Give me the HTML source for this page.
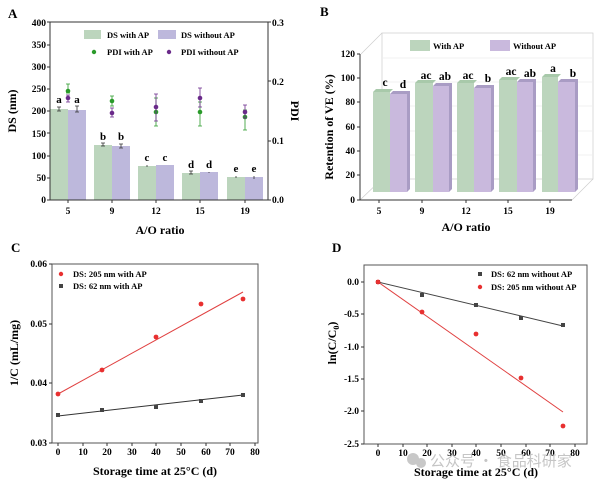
<!DOCTYPE html><html><head><style>body{margin:0;background:#fff}svg{display:block}text{font-family:"Liberation Serif",serif;font-weight:bold}</style></head><body>
<svg width="600" height="483" viewBox="0 0 600 483" xmlns="http://www.w3.org/2000/svg">
<!-- Panel A -->
<text x="8" y="18" font-size="13">A</text>
<g font-size="9.5" text-anchor="end">
<text x="46" y="203">0</text><text x="46" y="181">50</text><text x="46" y="159">100</text><text x="46" y="137">150</text><text x="46" y="114">200</text><text x="46" y="92">250</text><text x="46" y="70">300</text><text x="46" y="48">350</text><text x="46" y="26">400</text>
</g>
<g font-size="9.5" text-anchor="start"><text x="272" y="203">0.0</text><text x="272" y="144">0.1</text><text x="272" y="85">0.2</text><text x="272" y="26">0.3</text></g>
<g fill="#bcd5bd"><rect x="50" y="109" width="18" height="91"/><rect x="94" y="145" width="18" height="55"/><rect x="138" y="166" width="18" height="34"/><rect x="182" y="173" width="18" height="27"/><rect x="227" y="177" width="18" height="23"/></g>
<g fill="#bdb8dc"><rect x="68" y="110" width="18" height="90"/><rect x="112" y="146" width="18" height="54"/><rect x="156" y="165" width="18" height="35"/><rect x="200" y="172" width="18" height="28"/><rect x="245" y="177" width="18" height="23"/></g>
<g stroke="#333" stroke-width="0.8"><path d="M59 107v4M57 107h4M57 111h4M77 106v6M75 106h4M75 112h4M103 143v3M101 143h4M101 146h4M121 144v4M119 144h4M119 148h4M147 165v2M191 171v3M189 171h4M189 174h4M209 172v1M236 176v2M254 176v3"/></g>
<rect x="50" y="22" width="218" height="178" fill="none" stroke="#333" stroke-width="1"/>
<g stroke="#333" stroke-width="1"><path d="M68 200v3M112 200v3M156 200v3M200 200v3M245 200v3M50 200h-3M50 178h-3M50 156h-3M50 133h-3M50 111h-3M50 89h-3M50 67h-3M50 45h-3M50 22h-3M268 200h3M268 141h3M268 81h3M268 22h3"/></g>
<g font-size="11" text-anchor="middle"><text x="59" y="103">a</text><text x="77" y="103">a</text><text x="103" y="140">b</text><text x="121" y="140">b</text><text x="147" y="161">c</text><text x="165" y="161">c</text><text x="191" y="168">d</text><text x="209" y="168">d</text><text x="236" y="172">e</text><text x="254" y="172">e</text></g>
<!-- PDI -->
<g stroke="#2a9a2a" stroke-width="0.8" fill="none"><path d="M68 84v9M66 84h4M66 93h4M112 96v10M110 96h4M110 106h4M156 98v28M154 98h4M154 126h4M200 102v24M198 102h4M198 126h4M245 110v20M243 110h4M243 130h4"/></g>
<g fill="#2a9a2a"><circle cx="68" cy="91" r="2.3"/><circle cx="112" cy="101" r="2.3"/><circle cx="156" cy="112" r="2.3"/><circle cx="200" cy="112" r="2.3"/><circle cx="245" cy="117" r="2.3"/></g>
<g stroke="#6a2a8a" stroke-width="0.8" fill="none"><path d="M68 95v7M66 95h4M66 102h4M112 108v9M110 108h4M110 117h4M156 94v27M154 94h4M154 121h4M200 88v19M198 88h4M198 107h4M245 105v13M243 105h4M243 118h4"/></g>
<g fill="#6a2a8a"><circle cx="68" cy="98" r="2.3"/><circle cx="112" cy="113" r="2.3"/><circle cx="156" cy="107" r="2.3"/><circle cx="200" cy="98" r="2.3"/><circle cx="245" cy="112" r="2.3"/></g>
<g font-size="8.5"><rect x="84" y="30" width="17" height="9" fill="#bcd5bd"/><text x="107" y="38">DS with AP</text><rect x="158" y="30" width="18" height="9" fill="#bdb8dc"/><text x="181" y="38">DS without AP</text>
<circle cx="94" cy="52" r="2.2" fill="#2a9a2a"/><text x="107" y="55">PDI with AP</text><circle cx="169" cy="52" r="2.2" fill="#6a2a8a"/><text x="181" y="55">PDI without AP</text></g>
<g font-size="9.5" text-anchor="middle"><text x="68" y="214">5</text><text x="112" y="214">9</text><text x="156" y="214">12</text><text x="200" y="214">15</text><text x="245" y="214">19</text></g>
<text x="160" y="234" font-size="12" text-anchor="middle">A/O ratio</text>
<text transform="translate(16,111) rotate(-90)" font-size="12" text-anchor="middle">DS (nm)</text>
<text transform="translate(291,111) rotate(90)" font-size="12" text-anchor="middle">PDI</text>

<!-- Panel B -->
<text x="320" y="16" font-size="13">B</text>
<g stroke="#ccc" stroke-width="0.7" fill="none"><rect x="382" y="33" width="211" height="146"/><path d="M360 200L382 179M572 200L593 179M361 54L382 33"/>
<path d="M382 155h211M382 131h211M382 106h211M382 82h211M382 58h211" stroke="#eee"/></g>
<path d="M360 54V200H572" stroke="#333" fill="none"/>
<g stroke="#333"><path d="M360 54h-3M360 78h-3M360 102h-3M360 127h-3M360 151h-3M360 175h-3M360 200h-3M379 200v3M422 200v3M466 200v3M508 200v3M550 200v3"/></g>
<g font-size="9.5" text-anchor="end"><text x="355" y="57">120</text><text x="355" y="81">100</text><text x="355" y="105">80</text><text x="355" y="130">60</text><text x="355" y="154">40</text><text x="355" y="178">20</text><text x="355" y="203">0</text></g>
<g>
<g fill="#a8c9aa"><path d="M373 92l3-3h17l-3 3z"/><path d="M415 83l3-3h18l-3 3z"/><path d="M457 83l3-3h17l-3 3z"/><path d="M499 80l3-3h18l-3 3z"/><path d="M542 77l3-3h16l-3 3z"/></g>
<g fill="#bcd5bd"><rect x="373" y="92" width="17" height="100"/><rect x="415" y="83" width="18" height="109"/><rect x="457" y="83" width="17" height="109"/><rect x="499" y="80" width="18" height="112"/><rect x="542" y="77" width="16" height="115"/></g>
<g fill="#a99cc4"><path d="M390 94l3-3h17l-3 3zM407 94l3-3v98l-3 3z"/><path d="M433 86l3-3h16l-3 3zM449 86l3-3v106l-3 3z"/><path d="M474 88l3-3h17l-3 3zM491 88l3-3v104l-3 3z"/><path d="M517 82l3-3h16l-3 3zM533 82l3-3v110l-3 3z"/><path d="M558 82l3-3h17l-3 3zM575 82l3-3v110l-3 3z"/></g>
<g fill="#c9b9dd"><rect x="390" y="94" width="17" height="98"/><rect x="433" y="86" width="16" height="106"/><rect x="474" y="88" width="17" height="104"/><rect x="517" y="82" width="16" height="110"/><rect x="558" y="82" width="17" height="110"/></g>
</g>
<g font-size="11.5" text-anchor="middle"><text x="385" y="86">c</text><text x="403" y="88">d</text><text x="426" y="79">ac</text><text x="445" y="80">ab</text><text x="468" y="79">ac</text><text x="488" y="82">b</text><text x="511" y="75">ac</text><text x="530" y="77">ab</text><text x="553" y="72">a</text><text x="573" y="77">b</text></g>
<g font-size="8.5"><rect x="410" y="40" width="20" height="11" fill="#bcd5bd"/><text x="433" y="49">With AP</text><rect x="490" y="40" width="20" height="11" fill="#c9b9dd"/><text x="513" y="49">Without AP</text></g>
<g font-size="9.5" text-anchor="middle"><text x="379" y="214">5</text><text x="422" y="214">9</text><text x="466" y="214">12</text><text x="508" y="214">15</text><text x="550" y="214">19</text></g>
<text x="466" y="231" font-size="12" text-anchor="middle">A/O ratio</text>
<text transform="translate(333,127) rotate(-90)" font-size="12" text-anchor="middle">Retention of VE (%)</text>

<!-- Panel C -->
<text x="11" y="252" font-size="13">C</text>
<rect x="52" y="264" width="206" height="179" fill="none" stroke="#555" stroke-width="1"/>
<g stroke="#333"><path d="M58 443v3M83 443v3M107 443v3M132 443v3M156 443v3M181 443v3M206 443v3M230 443v3M255 443v3M52 264h-3M52 324h-3M52 383h-3M52 443h-3"/></g>
<g font-size="9.5" text-anchor="middle"><text x="58" y="455">0</text><text x="83" y="455">10</text><text x="107" y="455">20</text><text x="132" y="455">30</text><text x="156" y="455">40</text><text x="181" y="455">50</text><text x="206" y="455">60</text><text x="230" y="455">70</text><text x="255" y="455">80</text></g>
<g font-size="9.5" text-anchor="end"><text x="47" y="267">0.06</text><text x="47" y="327">0.05</text><text x="47" y="386">0.04</text><text x="47" y="446">0.03</text></g>
<line x1="58" y1="394" x2="243" y2="292" stroke="#e04040" stroke-width="1"/>
<line x1="58" y1="416" x2="243" y2="395" stroke="#333" stroke-width="1"/>
<g fill="#e83030"><circle cx="58" cy="394" r="2.4"/><circle cx="102" cy="370" r="2.4"/><circle cx="156" cy="337" r="2.4"/><circle cx="201" cy="304" r="2.4"/><circle cx="243" cy="299" r="2.4"/></g>
<g fill="#444"><rect x="56" y="413" width="4" height="4"/><rect x="100" y="408" width="4" height="4"/><rect x="154" y="405" width="4" height="4"/><rect x="199" y="399" width="4" height="4"/><rect x="241" y="393" width="4" height="4"/></g>
<g font-size="8.5"><circle cx="61" cy="274" r="2.2" fill="#e83030"/><text x="73" y="277">DS: 205 nm with AP</text><rect x="59" y="284" width="4" height="4" fill="#444"/><text x="73" y="289">DS: 62 nm with AP</text></g>
<text x="155" y="475" font-size="12" text-anchor="middle">Storage time at 25°C (d)</text>
<text transform="translate(18,353) rotate(-90)" font-size="12" text-anchor="middle">1/C (mL/mg)</text>

<!-- Panel D -->
<text x="332" y="252" font-size="13">D</text>
<rect x="364" y="265" width="223" height="179" fill="none" stroke="#555" stroke-width="1"/>
<g stroke="#333"><path d="M378 444v3M403 444v3M427 444v3M452 444v3M476 444v3M501 444v3M526 444v3M550 444v3M575 444v3M364 282h-3M364 314h-3M364 347h-3M364 379h-3M364 411h-3M364 444h-3"/></g>
<g font-size="9.5" text-anchor="middle"><text x="378" y="456">0</text><text x="403" y="456">10</text><text x="427" y="456">20</text><text x="452" y="456">30</text><text x="476" y="456">40</text><text x="501" y="456">50</text><text x="526" y="456">60</text><text x="550" y="456">70</text><text x="575" y="456">80</text></g>
<g font-size="9.5" text-anchor="end"><text x="359" y="285">0.0</text><text x="359" y="317">-0.5</text><text x="359" y="350">-1.0</text><text x="359" y="382">-1.5</text><text x="359" y="414">-2.0</text><text x="359" y="447">-2.5</text></g>
<line x1="378" y1="282" x2="563" y2="326" stroke="#444" stroke-width="1"/>
<line x1="378" y1="282" x2="563" y2="412" stroke="#e04040" stroke-width="1"/>
<g fill="#444"><rect x="376" y="280" width="4" height="4"/><rect x="420" y="293" width="4" height="4"/><rect x="474" y="303" width="4" height="4"/><rect x="519" y="316" width="4" height="4"/><rect x="561" y="323" width="4" height="4"/></g>
<g fill="#e83030"><circle cx="378" cy="282" r="2.4"/><circle cx="422" cy="312" r="2.4"/><circle cx="476" cy="334" r="2.4"/><circle cx="521" cy="378" r="2.4"/><circle cx="563" cy="426" r="2.4"/></g>
<g font-size="8.5"><rect x="478" y="272" width="4" height="4" fill="#444"/><text x="491" y="277">DS: 62 nm without AP</text><circle cx="480" cy="287" r="2.2" fill="#e83030"/><text x="491" y="290">DS: 205 nm without AP</text></g>
<text x="476" y="476" font-size="12" text-anchor="middle">Storage time at 25°C (d)</text>
<text transform="translate(336,343) rotate(-90)" font-size="12" text-anchor="middle">ln(C/C<tspan font-size="8" dy="3">0</tspan><tspan dy="-3">)</tspan></text>
<g fill="#bbb" opacity="0.8"><circle cx="413" cy="459" r="6"/><circle cx="421" cy="463" r="5"/></g>
<text x="430" y="466" font-size="15" fill="#bbb" opacity="0.85" style="font-family:'Noto Sans CJK SC',sans-serif;font-weight:normal">公众号 · 食品科研家</text>
</svg></body></html>
